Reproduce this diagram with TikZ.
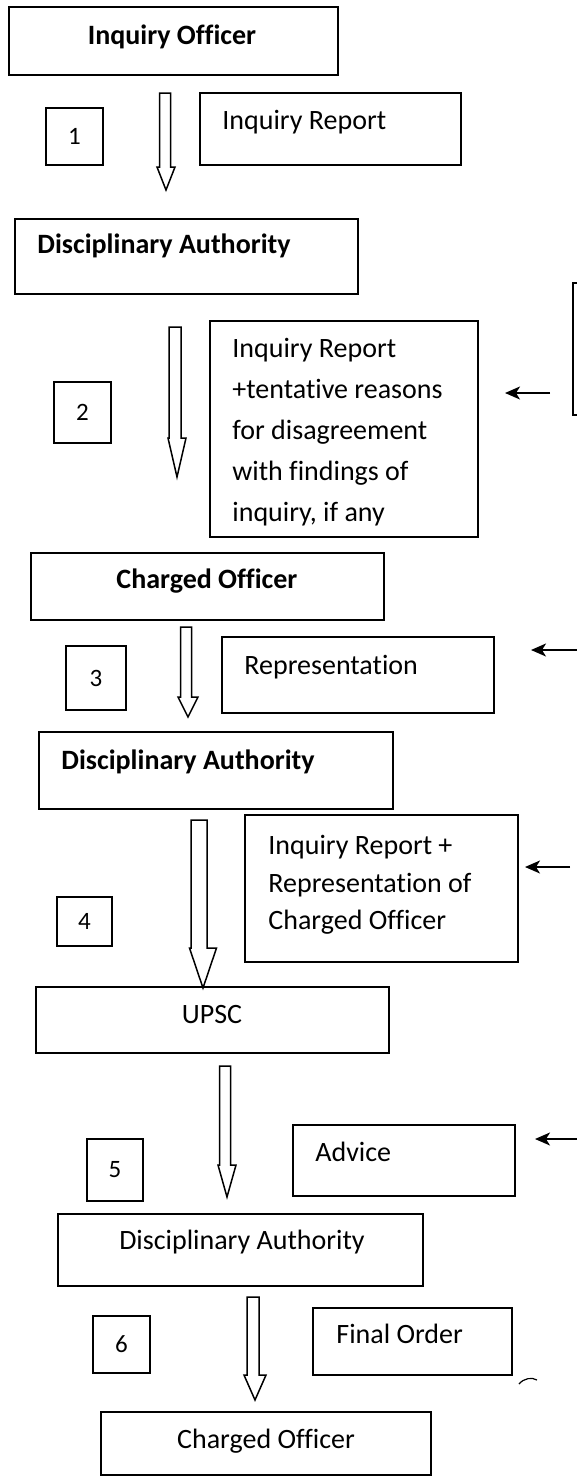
\documentclass[tikz,border=0pt]{standalone}
\usepackage{fontspec}
\setmainfont{Carlito}[Ligatures=NoCommon]
\usetikzlibrary{arrows.meta,fit,calc}
\tikzset{
  boxx/.style={draw, line width=0.9pt, inner sep=0pt},
  txt/.style={inner sep=0pt, font=\fontsize{14}{20.5}\selectfont, text height=9.8pt, text depth=3.5pt},
  mtxt/.style={inner sep=0pt, align=left},
  numtxt/.style={inner sep=0pt, font=\fontsize{12.5}{14}\selectfont},
  harrow/.style={draw, line width=0.75pt, fill=white, line join=miter},
  sarrow/.style={line width=0.7pt, -{Stealth[length=7.5pt,width=6.5pt,inset=2pt]}},
}
\newcommand\hollowarrow[5]{%
  \path[harrow] let \p1=(#1), \p2=(#2) in
  (\x1-#3,\y1) -- (\x1+#3,\y1) -- (\x1+#3,\y2+#5) -- (\x2+#4,\y2+#5) -- (\x2,\y2)
  -- (\x2-#4,\y2+#5) -- (\x1-#3,\y2+#5) -- cycle;}
\begin{document}
\begin{tikzpicture}[x=0.5pt,y=-0.5pt]
\useasboundingbox (0,0) rectangle (577,1478);

% boxes
\node[boxx, fit={(9,7)(338,75)}] (io) {};
\node[boxx, fit={(46,108)(103,165)}] (s1) {};
\node[boxx, fit={(200,93)(461,165)}] (ir) {};
\node[boxx, fit={(15,219)(358,294)}] (da1) {};
\node[boxx, fit={(54,382)(111,443)}] (s2) {};
\node[boxx, fit={(210,321)(478,537)}] (big) {};
\begin{scope}
  \clip (0,0) rectangle (577,1478);
  \node[boxx, fit={(573,283)(640,415)}] (side) {};
\end{scope}
\node[boxx, fit={(31,553)(384,620)}] (co1) {};
\node[boxx, fit={(66,646)(126,710)}] (s3) {};
\node[boxx, fit={(222,637)(494,713)}] (rep) {};
\node[boxx, fit={(39,732)(393,809)}] (da2) {};
\node[boxx, fit={(245,815)(518,962)}] (irrep) {};
\node[boxx, fit={(57,897)(112,946)}] (s4) {};
\node[boxx, fit={(36,987)(389,1053)}] (upsc) {};
\node[boxx, fit={(87,1139)(143,1201)}] (s5) {};
\node[boxx, fit={(293,1125)(515,1196)}] (adv) {};
\node[boxx, fit={(58,1214)(423,1286)}] (da3) {};
\node[boxx, fit={(93,1316)(150,1373)}] (s6) {};
\node[boxx, fit={(313,1308)(512,1375)}] (fo) {};
\node[boxx, fit={(101,1412)(431,1475)}] (co2) {};

% texts
\node[txt] (io-t) at (172,38) {\bfseries Inquiry Officer};
\node[txt, anchor=west] (ir-t) at (222,123) {Inquiry Report};
\node[txt, anchor=west] (da1-t) at (37,247) {\bfseries Disciplinary Authority};
\node[mtxt, anchor=north west, font=\fontsize{14}{20.5}\selectfont] (big-t) at (232,338)
  {Inquiry Report\\+tentative reasons\\for disagreement\\with findings of\\inquiry, if any};
\node[txt] (co1-t) at (207,582) {\bfseries Charged Officer};
\node[txt, anchor=west] (rep-t) at (244,668) {Representation};
\node[txt, anchor=west] (da2-t) at (61,763) {\bfseries Disciplinary Authority};
\node[mtxt, anchor=north west, font=\fontsize{14}{18.75}\selectfont] (irrep-t) at (268,835)
  {Inquiry Report +\\Representation of\\Charged Officer};
\node[txt] (upsc-t) at (212,1017) {UPSC};
\node[txt, anchor=west] (adv-t) at (315,1155) {Advice};
\node[txt] (da3-t) at (242,1243) {Disciplinary Authority};
\node[txt, anchor=west] (fo-t) at (336,1337) {Final Order};
\node[txt] (co2-t) at (266,1442) {Charged Officer};

% step numbers
\node[numtxt] (n1) at (s1) {1};
\node[numtxt] (n2) at (s2) {2};
\node[numtxt] (n3) at (s3) {3};
\node[numtxt] (n4) at (s4) {4};
\node[numtxt] (n5) at (s5) {5};
\node[numtxt] (n6) at (s6) {6};

% hollow flow arrows
\coordinate (a1s) at (165,93);   \coordinate (a1e) at (166,190);
\coordinate (a2s) at (175,327);  \coordinate (a2e) at (177,477);
\coordinate (a3s) at (186,627);  \coordinate (a3e) at (188,717);
\coordinate (a4s) at (199,820);  \coordinate (a4e) at (203,988);
\coordinate (a5s) at (225,1066); \coordinate (a5e) at (227,1197);
\coordinate (a6s) at (253,1297); \coordinate (a6e) at (255,1400);
\hollowarrow{a1s}{a1e}{2.75pt}{4.5pt}{11.5pt}
\hollowarrow{a2s}{a2e}{3pt}{4.5pt}{19.5pt}
\hollowarrow{a3s}{a3e}{2.75pt}{5pt}{10pt}
\hollowarrow{a4s}{a4e}{4pt}{6.75pt}{20pt}
\hollowarrow{a5s}{a5e}{2.75pt}{4.5pt}{16pt}
\hollowarrow{a6s}{a6e}{3pt}{5.5pt}{12.5pt}

% small arrows from the right
\coordinate (b1s) at (550,393);  \coordinate (b1e) at (505,393);
\coordinate (b2s) at (577,650);  \coordinate (b2e) at (531,650);
\coordinate (b3s) at (570,867);  \coordinate (b3e) at (525,867);
\coordinate (b4s) at (577,1139); \coordinate (b4e) at (535,1139);
\draw[sarrow] (b1s) -- (b1e);
\draw[sarrow] (b2s) -- (b2e);
\draw[sarrow] (b3s) -- (b3e);
\draw[sarrow] (b4s) -- (b4e);

% small mark
\draw[line width=0.6pt] (519,1384) .. controls (524,1378) and (532,1377) .. (537,1380);
\end{tikzpicture}
\end{document}
